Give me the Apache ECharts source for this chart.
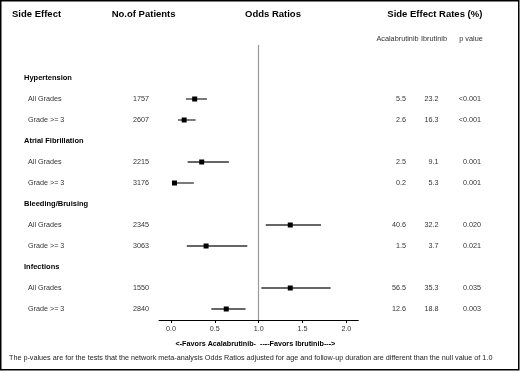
<!DOCTYPE html>
<html><head><meta charset="utf-8">
<script src="https://cdn.jsdelivr.net/npm/echarts@6/dist/echarts.min.js"></script>
<style>html,body{margin:0;padding:0;background:#fff}#c{width:520px;height:371px}</style>
</head><body><div id="c"></div>
<script>
const groups = ['Hypertension', 'Atrial Fibrillation', 'Bleeding/Bruising', 'Infections'];
const grades = ['All Grades', 'Grade >= 3'];
const patients = [1757, 2607, 2215, 3176, 2345, 3063, 1550, 2840];
const orEst  = [0.27, 0.15, 0.35, 0.04, 1.36, 0.40, 1.36, 0.63];
const orLow  = [0.17, 0.08, 0.19, 0.01, 1.08, 0.18, 1.03, 0.46];
const orHigh = [0.41, 0.28, 0.66, 0.26, 1.71, 0.87, 1.82, 0.85];
const acalaRates = ['5.5', '2.6', '2.5', '0.2', '40.6', '1.5', '56.5', '12.6'];
const ibruRates  = ['23.2', '16.3', '9.1', '5.3', '32.2', '3.7', '35.3', '18.8'];
const pValues = ['<0.001', '<0.001', '0.001', '0.001', '0.020', '0.021', '0.035', '0.003'];
const xTicks = [0, 0.5, 1, 1.5, 2];
const headers = ['Side Effect', 'No.of Patients', 'Odds Ratios', 'Side Effect Rates (%)'];
const subHeaders = ['Acalabrutinib', 'Ibrutinib', 'p value'];
const favorLabels = ['<-Favors Acalabrutinib-', '----Favors Ibrutinib--->'];
const footnote = 'The p-values are for the tests that the network meta-analysis Odds Ratios adjusted for age and follow-up duration are different than the null value of 1.0';

const FONT = '"Liberation Sans", Arial, sans-serif';
const TOP = 45, BOTTOM = 51;
const rowOf = i => 3 * Math.floor(i / 2) + 1 + (i % 2);
const yMin = -1.571, yMax = 11.524;

// forest data
const forest = orEst.map((v, i) => [orLow[i], orHigh[i], v, rowOf(i)]);

// text rows: [xpos(px), row, text, align, weight, color, size]
const textRows = [];
groups.forEach((g, gi) => textRows.push([24, 3 * gi, g, 'left', 'bold', '#000', 7.5]));
patients.forEach((p, i) => {
  const r = rowOf(i);
  textRows.push([28, r, grades[i % 2], 'left', 'normal', '#333', 7.2]);
  textRows.push([133, r, String(p), 'left', 'normal', '#333', 7.2]);
  textRows.push([406, r, acalaRates[i], 'right', 'normal', '#333', 7.2]);
  textRows.push([438.5, r, ibruRates[i], 'right', 'normal', '#333', 7.2]);
  textRows.push([481, r, pValues[i], 'right', 'normal', '#333', 7.2]);
});

const chart = echarts.init(document.getElementById('c'), null, {renderer: 'canvas'});
const headerX = [12, 111.7, 245, 387.3];
const subX = [397.5, 434, 471];
const graphic = [
  {type: 'rect', shape: {x: 0.75, y: 0.75, width: 518, height: 369}, style: {fill: 'none', stroke: '#000', lineWidth: 1.5}, silent: true}
];
headers.forEach((h, i) => graphic.push({type: 'text', x: headerX[i], y: 14.7,
  style: {text: h, font: 'bold 9.5px ' + FONT, fill: '#000', textAlign: 'left', textVerticalAlign: 'middle'}}));
subHeaders.forEach((h, i) => graphic.push({type: 'text', x: subX[i], y: 39,
  style: {text: h, font: '7.3px ' + FONT, fill: '#333', textAlign: 'center', textVerticalAlign: 'middle'}}));
graphic.push({type: 'text', x: 256, y: 344.3, style: {text: favorLabels[0], font: 'bold 7.2px ' + FONT, fill: '#000', textAlign: 'right', textVerticalAlign: 'middle'}});
graphic.push({type: 'text', x: 260, y: 344.3, style: {text: favorLabels[1], font: 'bold 7.2px ' + FONT, fill: '#000', textAlign: 'left', textVerticalAlign: 'middle'}});
graphic.push({type: 'text', x: 9, y: 358.3, style: {text: footnote, font: '7.22px ' + FONT, fill: '#222', textAlign: 'left', textVerticalAlign: 'middle'}});

chart.setOption({
  animation: false,
  backgroundColor: '#fff',
  graphic: graphic,
  grid: [
    {left: 159, right: 161.7, top: TOP, bottom: BOTTOM},
    {left: 0, right: 0, top: TOP, bottom: BOTTOM}
  ],
  xAxis: [
    {gridIndex: 0, type: 'value', min: -0.137, max: 2.136,
     splitLine: {show: false},
     axisLine: {show: true, onZero: false, lineStyle: {color: '#000', width: 1}},
     axisTick: {show: true, length: 3, customValues: xTicks, lineStyle: {color: '#000'}},
     axisLabel: {show: true, customValues: xTicks, margin: 6, fontSize: 7.2, fontFamily: FONT, color: '#333',
       formatter: v => v.toFixed(1)}},
    {gridIndex: 1, type: 'value', min: 0, max: 520, show: false}
  ],
  yAxis: [
    {gridIndex: 0, type: 'value', min: yMin, max: yMax, inverse: true, show: false},
    {gridIndex: 1, type: 'value', min: yMin, max: yMax, inverse: true, show: false}
  ],
  series: [
    {
      type: 'custom', xAxisIndex: 0, yAxisIndex: 0, data: forest, clip: false,
      encode: {x: [0, 1, 2], y: 3},
      renderItem: (params, api) => {
        const lo = api.coord([api.value(0), api.value(3)]);
        const hi = api.coord([api.value(1), api.value(3)]);
        const c = api.coord([api.value(2), api.value(3)]);
        const s = 5;
        return {type: 'group', children: [
          {type: 'line', shape: {x1: lo[0], y1: lo[1], x2: hi[0], y2: hi[1]}, style: {stroke: '#333', lineWidth: 1.3}},
          {type: 'rect', shape: {x: c[0] - s / 2, y: c[1] - s / 2, width: s, height: s}, style: {fill: '#000'}}
        ]};
      },
      markLine: {
        silent: true, symbol: 'none', label: {show: false},
        lineStyle: {color: '#999', width: 1.2, type: 'solid'},
        data: [{xAxis: 1}]
      }
    },
    {
      type: 'custom', xAxisIndex: 1, yAxisIndex: 1, data: textRows, clip: false,
      encode: {x: 0, y: 1},
      renderItem: (params, api) => {
        const d = textRows[params.dataIndex];
        const p = api.coord([d[0], d[1]]);
        return {type: 'text', x: p[0], y: p[1], style: {
          text: d[2], textAlign: d[3], textVerticalAlign: 'middle',
          font: d[4] + ' ' + d[6] + 'px ' + FONT, fill: d[5]}};
      }
    }
  ]
});
</script></body></html>
